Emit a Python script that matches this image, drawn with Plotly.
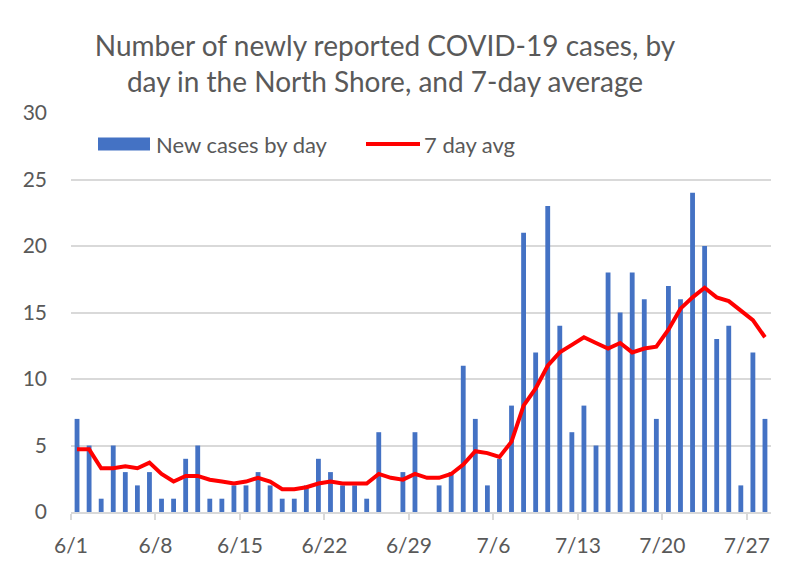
import pandas as pd
import plotly.graph_objects as go

start_date = "2020-06-01"
end_date = "2020-07-28"

new_cases = [
    7, 5, 1, 5, 3, 2, 3,
    1, 1, 4, 5, 1, 1, 2,
    2, 3, 2, 1, 1, 2, 4,
    3, 2, 2, 1, 6, 0, 3,
    6, 0, 2, 3, 11, 7, 2,
    4, 8, 21, 12, 23, 14, 6,
    8, 5, 18, 15, 18, 16, 7,
    17, 16, 24, 20, 13, 14, 2,
    12, 7,
]

avg_7day = [
    4.71, 4.71, 3.29, 3.29, 3.43, 3.29, 3.71,
    2.86, 2.29, 2.71, 2.71, 2.43, 2.29, 2.14,
    2.29, 2.57, 2.29, 1.71, 1.71, 1.86, 2.14,
    2.29, 2.14, 2.14, 2.14, 2.86, 2.57, 2.43,
    2.86, 2.57, 2.57, 2.86, 3.57, 4.57, 4.43,
    4.14, 5.29, 8.00, 9.29, 11.00, 12.00, 12.57,
    13.14, 12.71, 12.29, 12.71, 12.00, 12.29, 12.43,
    13.71, 15.29, 16.14, 16.86, 16.14, 15.86, 15.14,
    14.43, 13.14,
]

tick_dates = ["2020-06-01", "2020-06-08", "2020-06-15", "2020-06-22", "2020-06-29",
              "2020-07-06", "2020-07-13", "2020-07-20", "2020-07-27"]
tick_labels = ["6/1", "6/8", "6/15", "6/22", "6/29", "7/6", "7/13", "7/20", "7/27"]

title_text = "Number of newly reported COVID-19 cases, by<br>day in the North Shore, and 7-day average"
series_names = ["New cases by day", "7 day avg"]

days = pd.date_range(start_date, end_date, freq="D") + pd.Timedelta(hours=12)

FONT = "Lato"
TXT = "#595959"
GRID = "#D9D9D9"
BLUE = "#4472C4"
RED = "#FF0000"

# page offset (browser body margin)
OFF = 8
L, T, R, B = 71 - OFF, 113 - OFF, 790 - (771 - OFF), 575 - (512 - OFF)
PW, PH = 700, 399


def px(xpage):
    return (xpage - 71) / PW


def py(ypage):
    return (512 - ypage) / PH


fig = go.Figure()
fig.add_trace(go.Bar(x=days, y=new_cases, name=series_names[0], marker_color=BLUE,
                     marker_line_width=0, showlegend=False))
fig.add_trace(go.Scatter(x=days, y=avg_7day, name=series_names[1], mode="lines",
                         line=dict(color=RED, width=4), showlegend=False))

# custom legend (wide swatches like the original)
fig.add_shape(type="rect", xref="paper", yref="paper",
              x0=px(98), x1=px(150), y0=py(150.5), y1=py(137.5),
              fillcolor=BLUE, line_width=0)
fig.add_annotation(text=series_names[0], xref="paper", yref="paper",
                   x=px(154), y=py(144), xanchor="left", yanchor="middle",
                   showarrow=False, font=dict(family=FONT, size=22, color=TXT))
fig.add_shape(type="line", xref="paper", yref="paper",
              x0=px(366), x1=px(420), y0=py(144), y1=py(144),
              line=dict(color=RED, width=4))
fig.add_annotation(text=series_names[1], xref="paper", yref="paper",
                   x=px(422), y=py(144), xanchor="left", yanchor="middle",
                   showarrow=False, font=dict(family=FONT, size=22, color=TXT))

fig.update_layout(
    width=790, height=575,
    margin=dict(l=L, r=R, t=T, b=B, autoexpand=False),
    paper_bgcolor="white", plot_bgcolor="white",
    bargap=0.6,
    font=dict(family=FONT, color=TXT),
    title=dict(text=title_text, x=(385 - OFF) / 790, xanchor="center",
               y=1 - (56 - OFF) / 575, yanchor="middle",
               font=dict(family=FONT, size=28, color=TXT)),
)
fig.update_xaxes(
    type="date",
    range=["2020-06-01", "2020-07-29"],
    tickvals=tick_dates, ticktext=tick_labels,
    showgrid=False, showline=True, linecolor=GRID, linewidth=2,
    ticks="outside", ticklen=6, tickcolor=GRID, tickwidth=2,
    tickfont=dict(family=FONT, size=21, color=TXT),
    ticklabelstandoff=8,
)
fig.update_yaxes(
    range=[0, 30], dtick=5, tick0=0,
    showgrid=True, gridcolor=GRID, gridwidth=1.5,
    zeroline=False, showline=False,
    tickfont=dict(family=FONT, size=21, color=TXT),
    ticklabelstandoff=23,
)

fig.write_html("out.html")
